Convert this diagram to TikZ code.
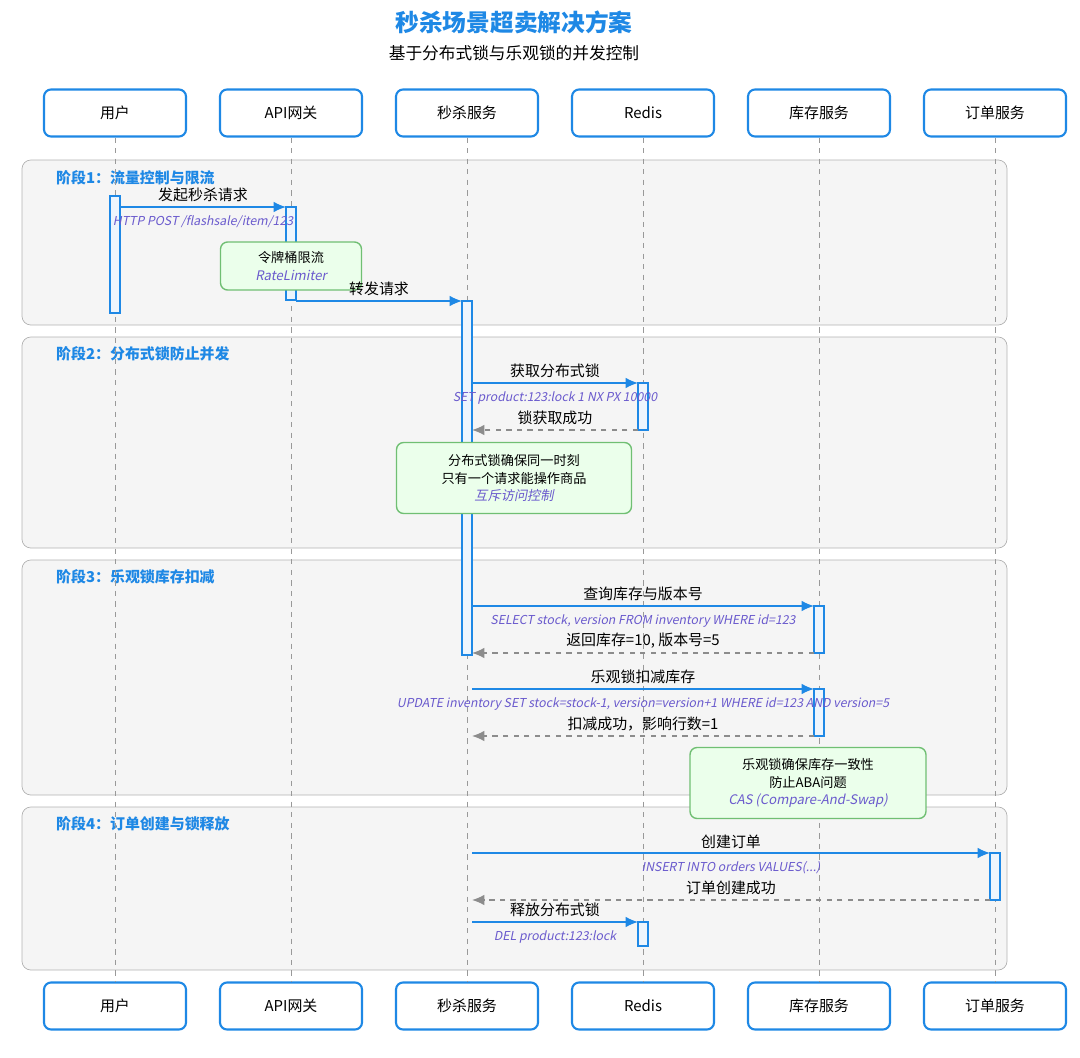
\documentclass[tikz,border=0pt]{standalone}
\usepackage{fontspec}
\setmainfont{Noto Sans CJK SC}
\newfontfamily\slantfont{Noto Sans CJK SC}[FakeSlant=0.2]
\usetikzlibrary{arrows.meta}
\definecolor{mblue}{HTML}{1E88E5}
\definecolor{msub}{HTML}{6A5ACD}
\definecolor{mgreen}{HTML}{4CAF50}
\begin{document}
\begin{tikzpicture}[x=0.02cm,y=-0.02cm,
    actor/.style ={draw=mblue, very thick, rounded corners=4pt, fill=white, minimum width=2.84cm, minimum height=0.94cm, font=\fontsize{8.5}{10}\selectfont},
    phase/.style ={draw=black!30, rounded corners=5pt, fill=blue!2!black!4},
    plabel/.style ={anchor=west, text=mblue, font=\fontsize{8.5}{10}\selectfont\bfseries},
    act/.style ={draw=mblue, thick, fill=mblue!8},
    msg/.style ={draw=mblue, thick, -{Latex[length=7pt,width=6pt]}},
    ret/.style ={draw=black!45, thick, dashed, -{Latex[length=7pt,width=6pt]}},
    lab/.style ={font=\fontsize{8.5}{10}\selectfont},
    sub/.style ={text=msub, font=\fontsize{7}{8}\selectfont\slantfont},
    note/.style ={draw=mgreen!80, thick, fill=green!8, rounded corners=4pt, align=center, font=\fontsize{7.5}{10}\selectfont}]
   \useasboundingbox (0,0) rectangle (1080,1058);
   \node[text=mblue, font=\fontsize{13.5}{16}\selectfont\bfseries] (title) at (514,22) {秒杀场景超卖解决方案};
   \node[font=\fontsize{9.5}{11}\selectfont] (subtitle) at (514,53) {基于分布式锁与乐观锁的并发控制};

   % phases
   \draw[phase] (22,160) rectangle (1007,325);
   \draw[phase] (22,337) rectangle (1007,548);
   \draw[phase] (22,560) rectangle (1007,795);
   \draw[phase] (22,807) rectangle (1007,970);
   \node[plabel] (p1) at (50,178) {阶段1：流量控制与限流};
   \node[plabel] (p2) at (50,354) {阶段2：分布式锁防止并发};
   \node[plabel] (p3) at (50,577) {阶段3：乐观锁库存扣减};
   \node[plabel] (p4) at (50,824) {阶段4：订单创建与锁释放};

   % lifelines
   \foreach \n/\x/\t in {u/115/用户, gw/291/API网关, fs/467/秒杀服务, rd/643/Redis, inv/819/库存服务, ord/995/订单服务} {
     \node[actor] (\n) at (\x,113) {\t};
     \node[actor] (\n b) at (\x,1006) {\t};
     \draw[black!40, dashed] (\n) -- (\n b);
   }

   % activations
   \draw[act] (110,196) rectangle (120,313);
   \draw[act] (286,207) rectangle (296,300);
   \draw[act] (462,301) rectangle (472,655);
   \draw[act] (638,383) rectangle (648,430);
   \draw[act] (814,606) rectangle (824,653);
   \draw[act] (814,689) rectangle (824,736);
   \draw[act] (990,853) rectangle (1000,900);
   \draw[act] (638,922) rectangle (648,946);

   % phase 1
   \coordinate (a1) at (120,207); \coordinate (b1) at (286,207);
   \draw[msg] (a1) -- (b1) node[lab, midway, above=-1pt] {发起秒杀请求} node[sub, midway, below=1pt] {HTTP POST /flashsale/item/123};
   \node[note, minimum width=2.82cm, minimum height=0.96cm] (n1) at (291,266) {令牌桶限流\\{\color{msub}\slantfont RateLimiter}};
   \coordinate (a2) at (296,301); \coordinate (b2) at (462,301);
   \draw[msg] (a2) -- (b2) node[lab, midway, above=-1pt] {转发请求};

   % phase 2
   \coordinate (a3) at (472,383); \coordinate (b3) at (638,383);
   \draw[msg] (a3) -- (b3) node[lab, midway, above=-1pt] {获取分布式锁} node[sub, midway, below=1pt] {SET product:123:lock 1 NX PX 10000};
   \coordinate (a4) at (638,430); \coordinate (b4) at (472,430);
   \draw[ret] (a4) -- (b4) node[lab, midway, above=-1pt] {锁获取成功};
   \node[note, minimum width=4.7cm, minimum height=1.42cm] (n2) at (514,478) {分布式锁确保同一时刻\\只有一个请求能操作商品\\{\color{msub}\slantfont 互斥访问控制}};

   % phase 3
   \coordinate (a5) at (472,606); \coordinate (b5) at (814,606);
   \draw[msg] (a5) -- (b5) node[lab, midway, above=-1pt] {查询库存与版本号} node[sub, midway, below=1pt] {SELECT stock, version FROM inventory WHERE id=123};
   \coordinate (a6) at (814,653); \coordinate (b6) at (472,653);
   \draw[ret] (a6) -- (b6) node[lab, midway, above=-1pt] {返回库存=10, 版本号=5};
   \coordinate (a7) at (472,689); \coordinate (b7) at (814,689);
   \draw[msg] (a7) -- (b7) node[lab, midway, above=-1pt] {乐观锁扣减库存} node[sub, midway, below=1pt] {UPDATE inventory SET stock=stock-1, version=version+1 WHERE id=123 AND version=5};
   \coordinate (a8) at (814,736); \coordinate (b8) at (472,736);
   \draw[ret] (a8) -- (b8) node[lab, midway, above=-1pt] {扣减成功，影响行数=1};
   \node[note, minimum width=4.72cm, minimum height=1.42cm] (n3) at (808,783) {乐观锁确保库存一致性\\防止ABA问题\\{\color{msub}\slantfont CAS (Compare-And-Swap)}};

   % phase 4
   \coordinate (a9) at (472,853); \coordinate (b9) at (990,853);
   \draw[msg] (a9) -- (b9) node[lab, midway, above=-1pt] {创建订单} node[sub, midway, below=1pt] {INSERT INTO orders VALUES(...)};
   \coordinate (a10) at (990,900); \coordinate (b10) at (472,900);
   \draw[ret] (a10) -- (b10) node[lab, midway, above=-1pt] {订单创建成功};
   \coordinate (a11) at (472,922); \coordinate (b11) at (638,922);
   \draw[msg] (a11) -- (b11) node[lab, midway, above=-1pt] {释放分布式锁} node[sub, midway, below=1pt] {DEL product:123:lock};
\end{tikzpicture}
\end{document}
